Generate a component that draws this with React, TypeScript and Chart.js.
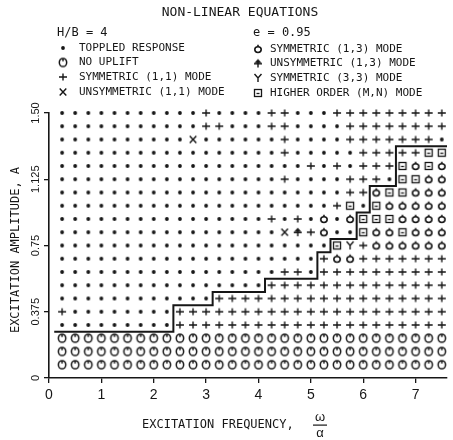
import React, { useEffect, useRef } from "react";
import { Chart, registerables } from "chart.js";

Chart.register(...registerables);

// ---------- data ----------
const chartTitle = "NON-LINEAR EQUATIONS";
const paramLeft = "H/B = 4";
const paramRight = "e = 0.95";
const xAxisTitle = "EXCITATION FREQUENCY,";
const yAxisTitle = "EXCITATION AMPLITUDE, A";
const fracTop = "ω";
const fracBottom = "α";

const xTickValues = [0, 1, 2, 3, 4, 5, 6, 7];
const xTickLabels = ["0", "1", "2", "3", "4", "5", "6", "7"];
const yTickValues = [0, 0.375, 0.75, 1.125, 1.5];
const yTickLabels = ["0", "0.375", "0.75", "1.125", "1.50"];

// excitation frequencies of the grid columns
const frequencies = [
  0.25, 0.5, 0.75, 1.0, 1.25, 1.5, 1.75, 2.0, 2.25, 2.5,
  2.75, 3.0, 3.25, 3.5, 3.75, 4.0, 4.25, 4.5, 4.75, 5.0,
  5.25, 5.5, 5.75, 6.0, 6.25, 6.5, 6.75, 7.0, 7.25, 7.5,
];
// excitation amplitudes of the grid rows (top to bottom)
const amplitudes = [
  1.5, 1.425, 1.35, 1.275, 1.2, 1.125, 1.05, 0.975, 0.9, 0.825,
  0.75, 0.675, 0.6, 0.525, 0.45, 0.375, 0.3, 0.225, 0.15, 0.075,
];
// response code per grid cell (row = amplitude, column = frequency)
// T toppled, N no uplift, S sym (1,1), U unsym (1,1), D sym (1,3), V unsym (1,3), Y sym (3,3), H higher order
const responseRows = [
  "TTTTT TTTTT TSTTT TSSTT TSSSS SSSSS",
  "TTTTT TTTTT TSSTT TSSTT TTSSS SSSSS",
  "TTTTT TTTTT UTTTT TTSTT TTSSS SSSST",
  "TTTTT TTTTT TTTTT TTSTT TTTSS SSSHH",
  "TTTTT TTTTT TTTTT TTTTS TSTSS SHDHD",
  "TTTTT TTTTT TTTTT TTSTT TTSSS THHDD",
  "TTTTT TTTTT TTTTT TTTTT TTSSD HHDDD",
  "TTTTT TTTTT TTTTT TTTTT TSHTH DDDDD",
  "TTTTT TTTTT TTTTT TSTST DTDHH HDDDD",
  "TTTTT TTTTT TTTTT TTUVS DTTHD DHDDD",
  "TTTTT TTTTT TTTTT TTTTT THYSD DDDDD",
  "TTTTT TTTTT TTTTT TTTTT SDDSS SSSSS",
  "TTTTT TTTTT TTTTT TTSST SSSSS SSSSS",
  "TTTTT TTTTT TTTTT TSSSS SSSSS SSSSS",
  "TTTTT TTTTT TTSSS SSSSS SSSSS SSSSS",
  "STTTT TTTTS SSSSS SSSSS SSSSS SSSSS",
  "TTTTT TTTTS SSSSS SSSSS SSSSS SSSSS",
  "NNNNN NNNNN NNNNN NNNNN NNNNN NNNNN",
  "NNNNN NNNNN NNNNN NNNNN NNNNN NNNNN",
  "NNNNN NNNNN NNNNN NNNNN NNNNN NNNNN",
];

// toppling boundary (staircase)
const boundaryX = [0.1, 2.375, 2.375, 3.125, 3.125, 4.125, 4.125, 5.125, 5.125, 5.375, 5.375, 5.875, 5.875, 6.125, 6.125, 6.625, 6.625, 7.6];
const boundaryY = [0.2625, 0.2625, 0.4125, 0.4125, 0.4875, 0.4875, 0.5625, 0.5625, 0.7125, 0.7125, 0.7875, 0.7875, 0.9375, 0.9375, 1.0875, 1.0875, 1.3125, 1.3125];

const legendLeftCodes = ["T", "N", "S", "U"];
const legendLeftTexts = ["TOPPLED RESPONSE", "NO UPLIFT", "SYMMETRIC (1,1) MODE", "UNSYMMETRIC (1,1) MODE"];
const legendRightCodes = ["D", "V", "Y", "H"];
const legendRightTexts = ["SYMMETRIC (1,3) MODE", "UNSYMMETRIC (1,3) MODE", "SYMMETRIC (3,3) MODE", "HIGHER ORDER (M,N) MODE"];
const symbolCodes = ["N", "T", "S", "U", "D", "V", "Y", "H"];

// ---------- style ----------
const INK = "#161616";
const MONO = "'DejaVu Sans Mono', monospace";
const SANS = "'Liberation Sans', 'DejaVu Sans', sans-serif";

function makeMarker(code: string): HTMLCanvasElement {
  const c = document.createElement("canvas");
  c.width = 14;
  c.height = 14;
  const g = c.getContext("2d") as CanvasRenderingContext2D;
  g.translate(7, 7);
  g.strokeStyle = INK;
  g.fillStyle = INK;
  g.lineWidth = 1.4;
  g.lineCap = "butt";
  const P = Math.PI * 2;
  switch (code) {
    case "T":
      g.beginPath();
      g.arc(0, 0, 1.9, 0, P);
      g.fill();
      break;
    case "N":
      g.lineWidth = 1.5;
      g.beginPath();
      g.ellipse(0, 0, 3.7, 4.1, 0, 0, P);
      g.stroke();
      g.beginPath();
      g.moveTo(0, -4);
      g.lineTo(0, -1.2);
      g.stroke();
      break;
    case "S":
      g.beginPath();
      g.moveTo(-4, 0);
      g.lineTo(4, 0);
      g.moveTo(0, -3.5);
      g.lineTo(0, 3.5);
      g.stroke();
      break;
    case "U":
      g.beginPath();
      g.moveTo(-3.3, -3.5);
      g.lineTo(3.3, 3.5);
      g.moveTo(3.3, -3.5);
      g.lineTo(-3.3, 3.5);
      g.stroke();
      break;
    case "D":
      g.lineWidth = 1.6;
      g.beginPath();
      g.ellipse(0, 0.6, 3.2, 2.9, 0, 0, P);
      g.stroke();
      g.beginPath();
      g.moveTo(0, -4.3);
      g.lineTo(0, -2.2);
      g.stroke();
      break;
    case "V":
      g.beginPath();
      g.moveTo(-3.6, -0.5);
      g.lineTo(3.6, -0.5);
      g.lineTo(0, -4.5);
      g.closePath();
      g.fill();
      g.beginPath();
      g.moveTo(0, -1);
      g.lineTo(0, 4);
      g.moveTo(-4, 0.3);
      g.lineTo(4, 0.3);
      g.stroke();
      break;
    case "Y":
      g.beginPath();
      g.moveTo(-3.5, -4);
      g.lineTo(0, 0);
      g.lineTo(3.5, -4);
      g.moveTo(0, 0);
      g.lineTo(0, 4);
      g.stroke();
      break;
    case "H":
      g.lineWidth = 1.3;
      g.strokeRect(-3.5, -3.5, 7, 7);
      g.beginPath();
      g.moveTo(-1.5, 0.5);
      g.lineTo(1.5, 0.5);
      g.stroke();
      break;
  }
  return c;
}

export default function App() {
  const ref = useRef<HTMLCanvasElement | null>(null);

  useEffect(() => {
    if (!ref.current) return;
    const markers: Record<string, HTMLCanvasElement> = {};
    symbolCodes.forEach((c) => (markers[c] = makeMarker(c)));

    const grid = responseRows.map((r) => r.replace(/ /g, ""));
    const datasets: any[] = symbolCodes.map((code) => {
      const pts: { x: number; y: number }[] = [];
      grid.forEach((row, i) => {
        for (let j = 0; j < row.length; j++) {
          if (row[j] === code) pts.push({ x: frequencies[j], y: amplitudes[i] });
        }
      });
      return {
        label: code,
        data: pts,
        pointStyle: markers[code],
        pointRadius: 5,
        showLine: false,
        clip: false,
      };
    });
    datasets.push({
      label: "boundary",
      data: boundaryX.map((x, i) => ({ x, y: boundaryY[i] })),
      showLine: true,
      pointRadius: 0,
      borderColor: INK,
      borderWidth: 2,
      fill: false,
      tension: 0,
      clip: false,
    });

    const annotate = {
      id: "annotate",
      afterDraw(chart: any) {
        const ctx: CanvasRenderingContext2D = chart.ctx;
        ctx.save();
        ctx.fillStyle = INK;
        ctx.textBaseline = "middle";
        // title
        ctx.font = `13px ${MONO}`;
        ctx.textAlign = "center";
        ctx.fillText(chartTitle, 240, 13);
        // parameters
        ctx.font = `12px ${MONO}`;
        ctx.textAlign = "left";
        ctx.fillText(paramLeft, 57, 33);
        ctx.fillText(paramRight, 253, 33);
        // legend
        ctx.font = `11px ${MONO}`;
        const leftRows = [48, 62.5, 77, 92];
        const rightRows = [49, 63.5, 78, 93];
        legendLeftCodes.forEach((c, i) => {
          const m = markers[c];
          ctx.drawImage(m, 63 - 7, leftRows[i] - 7);
          ctx.fillText(legendLeftTexts[i], 79, leftRows[i]);
        });
        legendRightCodes.forEach((c, i) => {
          const m = markers[c];
          ctx.drawImage(m, 258 - 7, rightRows[i] - 7);
          ctx.fillText(legendRightTexts[i], 270, rightRows[i]);
        });
        // y tick labels (rotated)
        const ys = chart.scales.y;
        ctx.font = `11px ${SANS}`;
        ctx.textAlign = "center";
        yTickValues.forEach((v, i) => {
          const py = ys.getPixelForValue(v);
          ctx.save();
          ctx.translate(36, py);
          ctx.rotate(-Math.PI / 2);
          ctx.fillText(yTickLabels[i], 0, 0);
          ctx.restore();
        });
        // y title
        ctx.font = `12px ${MONO}`;
        ctx.save();
        ctx.translate(16, 250);
        ctx.rotate(-Math.PI / 2);
        ctx.fillText(yAxisTitle, 0, 0);
        ctx.restore();
        // x title with fraction
        ctx.textAlign = "left";
        ctx.fillText(xAxisTitle, 142, 425);
        ctx.textAlign = "center";
        ctx.font = `13px ${SANS}`;
        ctx.fillText(fracTop, 320, 417);
        ctx.fillText(fracBottom, 320, 433);
        ctx.fillRect(313, 424.5, 14, 1.2);
        ctx.restore();
      },
    };

    const chart = new Chart(ref.current, {
      type: "scatter",
      data: { datasets },
      options: {
        responsive: false,
        devicePixelRatio: 1,
        animation: false,
        events: [],
        layout: { padding: { top: 113, right: 4, left: 0, bottom: 0 } },
        plugins: { legend: { display: false }, tooltip: { enabled: false }, title: { display: false } },
        scales: {
          x: {
            type: "linear",
            min: 0,
            max: 7.6,
            afterBuildTicks: (s: any) => {
              s.ticks = xTickValues.map((v) => ({ value: v }));
            },
            afterFit: (s: any) => {
              s.height = 62;
            },
            ticks: {
              color: INK,
              font: { size: 14, family: SANS },
              padding: 4,
              callback: (v: any) => xTickLabels[xTickValues.indexOf(Number(v))] ?? "",
            },
            grid: { drawOnChartArea: false, drawTicks: true, tickLength: 5, color: INK, lineWidth: 1.3 },
            border: { display: true, color: INK, width: 1.6 },
          },
          y: {
            type: "linear",
            min: 0,
            max: 1.5,
            afterBuildTicks: (s: any) => {
              s.ticks = yTickValues.map((v) => ({ value: v }));
            },
            afterFit: (s: any) => {
              s.width = 49;
            },
            ticks: { display: false },
            grid: { drawOnChartArea: false, drawTicks: true, tickLength: 5, color: INK, lineWidth: 1.3 },
            border: { display: true, color: INK, width: 1.6 },
          },
        },
      },
      plugins: [annotate],
    });
    return () => chart.destroy();
  }, []);

  return (
    <div style={{ position: "fixed", left: 0, top: 0, width: 453, height: 440, background: "#fff" }}>
      <canvas ref={ref} width={453} height={440} />
    </div>
  );
}
